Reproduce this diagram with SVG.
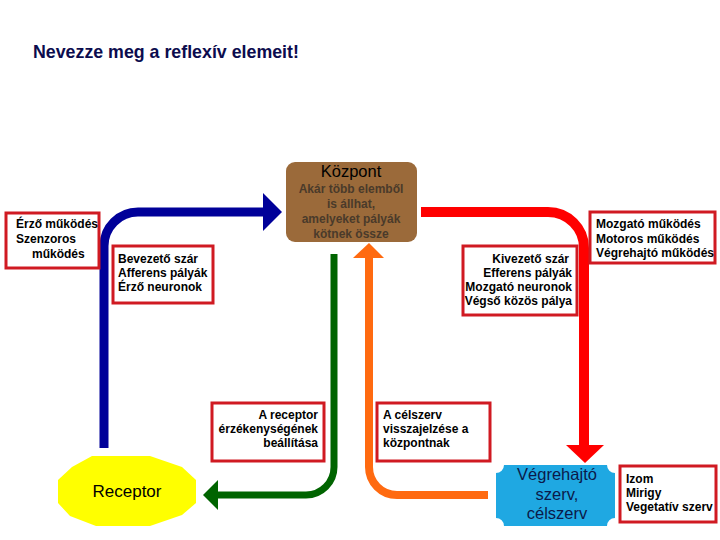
<svg xmlns="http://www.w3.org/2000/svg" width="720" height="540" viewBox="0 0 720 540">
<defs>
<style>
.lbl{font-family:"Liberation Sans",Arial,sans-serif;font-size:12px;font-weight:bold;fill:#000}
.box{fill:#fff;stroke:#d01a22;stroke-width:3}
.r{text-anchor:end}
.c{text-anchor:middle}
.ln{fill:none;stroke-linejoin:round}
</style>
</defs>
<rect width="720" height="540" fill="#fff"/>
<text x="33" y="58" style="font-family:'Liberation Sans',Arial,sans-serif;font-size:17.8px;font-weight:bold;fill:#0c0c4e">Nevezze meg a reflexív elemeit!</text>

<g id="connectors">
<path class="ln" d="M104,448 V246 A34,34 0 0 1 138,212 H266" stroke="#000099" stroke-width="9"/>
<polygon points="263,193 282,212 263,231" fill="#000099"/>
<path class="ln" d="M421,212 H548 A36,36 0 0 1 584,248 V446" stroke="#ff0000" stroke-width="10"/>
<polygon points="566,445 604,445 585,463" fill="#ff0000"/>
<path class="ln" d="M334,254 V467 A28,28 0 0 1 306,495 H216" stroke="#006400" stroke-width="7"/>
<polygon points="218,480 203,495 218,510" fill="#006400"/>
<path class="ln" d="M369,256 V467 A28,28 0 0 0 397,495 H488" stroke="#ff6a10" stroke-width="8"/>
<polygon points="353,258 369,243 384,258" fill="#ff6a10"/>
</g>

<g id="kozpont">
<rect x="286" y="162" width="131" height="80" rx="9" fill="#9b6a3a"/>
<text x="351" y="177" class="c" style="font-family:'Liberation Sans',Arial,sans-serif;font-size:16.5px;fill:#000">Központ</text>
<g class="lbl c" style="fill:#4a3a2a">
<text x="351" y="193">Akár több elemből</text>
<text x="351" y="208">is állhat,</text>
<text x="351" y="223">amelyeket pályák</text>
<text x="351" y="238">kötnek össze</text>
</g>
</g>

<g id="erzo">
<rect class="box" x="6" y="213" width="93" height="55"/>
<text class="lbl" x="16" y="228">Érző működés</text>
<text class="lbl" x="16" y="243">Szenzoros</text>
<text class="lbl" x="32" y="258">működés</text>
</g>

<g id="bevezeto">
<rect class="box" x="113" y="246" width="100" height="57"/>
<text class="lbl" x="118" y="263">Bevezető szár</text>
<text class="lbl" x="118" y="277">Afferens pályák</text>
<text class="lbl" x="118" y="291">Érző neuronok</text>
</g>

<g id="kivezeto">
<rect class="box" x="463" y="246" width="114" height="69"/>
<text class="lbl r" x="569" y="263">Kivezető szár</text>
<text class="lbl r" x="572" y="277">Efferens pályák</text>
<text class="lbl r" x="572" y="291">Mozgató neuronok</text>
<text class="lbl r" x="572" y="305">Végső közös pálya</text>
</g>

<g id="mozgato">
<rect class="box" x="590" y="212" width="125" height="51"/>
<text class="lbl" x="596" y="228">Mozgató működés</text>
<text class="lbl" x="596" y="243">Motoros működés</text>
<text class="lbl" x="596" y="257">Végrehajtó működés</text>
</g>

<g id="receptor-beallitas">
<rect class="box" x="212" y="403" width="112" height="58"/>
<text class="lbl r" x="318" y="419">A receptor</text>
<text class="lbl r" x="318" y="433">érzékenységének</text>
<text class="lbl r" x="318" y="447">beállítása</text>
</g>

<g id="visszajelzes">
<rect class="box" x="377" y="403" width="113" height="58"/>
<text class="lbl" x="383" y="419">A célszerv</text>
<text class="lbl" x="383" y="433">visszajelzése a</text>
<text class="lbl" x="383" y="447">központnak</text>
</g>

<g id="receptor">
<polygon points="92,456 150,456 182,467 196,480 196,503 182,515 150,526 96,526 70,516 58,503 58,480 72,467" fill="#ffff00"/>
<text x="127" y="497" class="c" style="font-family:'Liberation Sans',Arial,sans-serif;font-size:17px;fill:#000">Receptor</text>
</g>

<g id="vegrehajto">
<path d="M504,465 H607 A8,8 0 0 0 615,473 V518 A8,8 0 0 0 607,526 H504 A8,8 0 0 0 496,518 V473 A8,8 0 0 0 504,465 Z" fill="#1fa8e2"/>
<g class="c" style="font-family:'Liberation Sans',Arial,sans-serif;font-size:16.5px;fill:#0b1a4a">
<text x="557" y="480">Végrehajtó</text>
<text x="557" y="500">szerv,</text>
<text x="557" y="519">célszerv</text>
</g>
</g>

<g id="izom">
<rect class="box" x="620" y="466" width="96" height="56"/>
<text class="lbl" x="626" y="483">Izom</text>
<text class="lbl" x="626" y="497">Mirigy</text>
<text class="lbl" x="626" y="511">Vegetatív szerv</text>
</g>
</svg>
